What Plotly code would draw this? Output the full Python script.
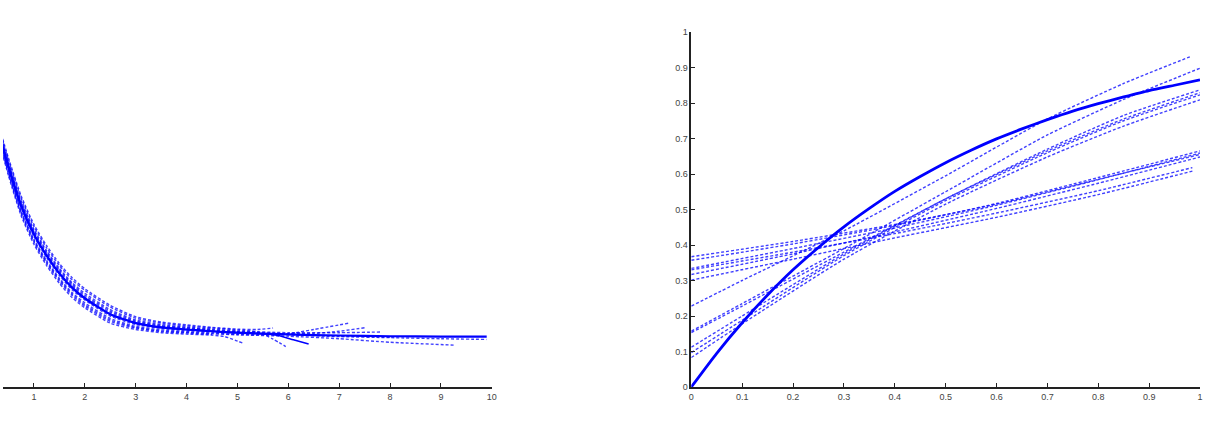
import plotly.graph_objects as go

# ---------------- Left panel data ----------------
grid_x = [0.3, 0.5, 0.75, 1.0, 1.25, 1.5, 1.75, 2.0, 2.5, 3.0, 3.5, 4.0, 4.5, 5.0]

left_main_x = grid_x + [6.0, 7.0, 8.0, 9.0, 9.9]
left_main_y = [0.72, 0.62, 0.51, 0.43, 0.37, 0.32, 0.28, 0.25, 0.205, 0.18, 0.168, 0.162, 0.157, 0.153,
               0.148, 0.145, 0.143, 0.142, 0.142]

left_dashed = [
    # (y on grid, tail x, tail y, solid?)
    ([0.716, 0.615, 0.504, 0.424, 0.364, 0.314, 0.274, 0.245, 0.20, 0.176, 0.165, 0.159, 0.155, 0.151],
     [6.0, 7.0, 8.0, 9.0, 9.9], [0.147, 0.142, 0.139, 0.136, 0.134], False),
    ([0.707, 0.604, 0.492, 0.412, 0.352, 0.302, 0.262, 0.232, 0.189, 0.168, 0.158, 0.154, 0.15, 0.147],
     [6.0, 7.0, 8.0, 9.25], [0.143, 0.136, 0.126, 0.118], False),
    ([0.73, 0.633, 0.524, 0.444, 0.384, 0.334, 0.294, 0.264, 0.218, 0.189, 0.176, 0.169, 0.163, 0.158],
     [6.0, 7.0, 7.84], [0.153, 0.153, 0.155], False),
    ([0.71, 0.608, 0.496, 0.416, 0.356, 0.306, 0.266, 0.237, 0.193, 0.171, 0.161, 0.156, 0.152, 0.148],
     [5.5, 6.0, 6.5, 7.2], [0.147, 0.15, 0.162, 0.18], False),
    ([0.724, 0.625, 0.516, 0.436, 0.376, 0.326, 0.286, 0.255, 0.21, 0.184, 0.171, 0.165, 0.159, 0.155],
     [6.0, 6.5, 7.0, 7.5], [0.15, 0.151, 0.157, 0.167], False),
    ([0.72, 0.62, 0.51, 0.43, 0.37, 0.32, 0.28, 0.25, 0.205, 0.18, 0.168, 0.162, 0.157, 0.153],
     [5.5, 5.8, 6.1, 6.4], [0.15, 0.145, 0.133, 0.121], True),
    ([0.736, 0.64, 0.532, 0.452, 0.392, 0.342, 0.302, 0.272, 0.225, 0.194, 0.18, 0.172, 0.166, 0.161],
     [5.4, 5.7, 5.95], [0.155, 0.135, 0.114], False),
    ([0.70, 0.595, 0.482, 0.402, 0.342, 0.292, 0.252, 0.223, 0.18, 0.162, 0.153, 0.149, 0.146],
     [4.75, 4.95, 5.1], [0.142, 0.132, 0.124], False),
    ([0.74, 0.645, 0.538, 0.458, 0.398, 0.348, 0.308, 0.277, 0.23, 0.198, 0.183, 0.175, 0.168, 0.163],
     [5.4, 5.7], [0.162, 0.166], False),
    ([0.727, 0.629, 0.52, 0.44, 0.38, 0.33, 0.29, 0.259, 0.214, 0.186, 0.173, 0.167, 0.161, 0.156],
     [6.0, 7.0, 8.0], [0.148, 0.144, 0.141], False),
    ([0.704, 0.60, 0.488, 0.408, 0.348, 0.298, 0.258, 0.228, 0.185, 0.166, 0.156, 0.152, 0.148],
     [], [], False),
]

# ---------------- Right panel data ----------------
right_main_x = [0, 0.05, 0.1, 0.15, 0.2, 0.25, 0.3, 0.35, 0.4, 0.45, 0.5,
                0.55, 0.6, 0.65, 0.7, 0.75, 0.8, 0.85, 0.9, 0.95, 1.0]
right_main_y = [0, 0.095, 0.181, 0.259, 0.330, 0.393, 0.451, 0.503, 0.551, 0.593, 0.632,
                0.667, 0.699, 0.727, 0.753, 0.777, 0.798, 0.817, 0.835, 0.850, 0.865]

upper_x = [0, 0.1, 0.3, 0.5, 0.7, 0.85, 1.0]
upper_x_top = [0, 0.1, 0.3, 0.5, 0.7, 0.85, 0.98]
upper_group = [
    (upper_x_top, [0.228, 0.30, 0.44, 0.595, 0.755, 0.855, 0.93]),
    (upper_x, [0.157, 0.235, 0.39, 0.55, 0.71, 0.81, 0.898]),
    (upper_x, [0.153, 0.228, 0.38, 0.53, 0.67, 0.765, 0.837]),
    (upper_x, [0.112, 0.20, 0.375, 0.53, 0.665, 0.755, 0.829]),
    (upper_x, [0.097, 0.188, 0.37, 0.525, 0.66, 0.75, 0.823]),
    (upper_x, [0.083, 0.178, 0.36, 0.515, 0.648, 0.735, 0.809]),
]

lower_x = [0, 0.2, 0.4, 0.6, 0.8, 1.0]
lower_x_short = [0, 0.2, 0.4, 0.6, 0.8, 0.985]
lower_group = [
    (lower_x, [0.367, 0.410, 0.458, 0.515, 0.585, 0.655]),
    (lower_x, [0.357, 0.403, 0.455, 0.517, 0.590, 0.665]),
    (lower_x, [0.334, 0.390, 0.448, 0.512, 0.584, 0.659]),
    (lower_x_short, [0.330, 0.380, 0.432, 0.490, 0.553, 0.618]),
    (lower_x, [0.317, 0.375, 0.437, 0.503, 0.574, 0.648]),
    (lower_x_short, [0.301, 0.360, 0.420, 0.478, 0.542, 0.608]),
]

x_ticks_left = [1, 2, 3, 4, 5, 6, 7, 8, 9, 10]
ticks_right = [0, 0.1, 0.2, 0.3, 0.4, 0.5, 0.6, 0.7, 0.8, 0.9, 1]
tick_text_right = ["0", "0.1", "0.2", "0.3", "0.4", "0.5", "0.6", "0.7", "0.8", "0.9", "1"]

BLUE = "#0000ff"
DASH_COLOR = "rgba(0,0,255,0.75)"
DASH = "3px,2px"

fig = go.Figure()

# left dashed band
for gy, tx, ty, solid in left_dashed:
    xs = grid_x[:len(gy)] + tx
    ys = gy + ty
    if solid:
        line = dict(color=BLUE, width=1.6, shape="spline", smoothing=0.6)
    else:
        line = dict(color=DASH_COLOR, width=1.4, dash=DASH, shape="spline", smoothing=0.6)
    fig.add_trace(go.Scatter(x=xs, y=ys, mode="lines", line=line,
                             xaxis="x", yaxis="y", showlegend=False, hoverinfo="skip"))
fig.add_trace(go.Scatter(x=left_main_x, y=left_main_y, mode="lines",
                         line=dict(color=BLUE, width=2.2, shape="spline", smoothing=0.6),
                         xaxis="x", yaxis="y", showlegend=False))

# right dashed
for gx, gy in upper_group + lower_group:
    fig.add_trace(go.Scatter(x=gx, y=gy, mode="lines",
                             line=dict(color=DASH_COLOR, width=1.4, dash=DASH, shape="spline", smoothing=0.6),
                             xaxis="x2", yaxis="y2", showlegend=False, hoverinfo="skip"))
fig.add_trace(go.Scatter(x=right_main_x, y=right_main_y, mode="lines",
                         line=dict(color=BLUE, width=2.8, shape="spline", smoothing=0.6),
                         xaxis="x2", yaxis="y2", showlegend=False))

tick_font = dict(family="Liberation Sans, Arial, sans-serif", size=9, color="#444")
axis_common = dict(showgrid=False, zeroline=False, showline=True, linecolor="#222",
                   linewidth=1.5, ticks="inside", ticklen=4, tickwidth=1.2,
                   tickcolor="#222", tickfont=tick_font)

fig.update_layout(
    width=1216, height=432,
    margin=dict(l=0, r=16, t=32, b=45),
    paper_bgcolor="white", plot_bgcolor="white",
    showlegend=False,
    xaxis=dict(domain=[0, 490 / 1200], range=[0.392, 10], tickvals=x_ticks_left,
               ticktext=[str(v) for v in x_ticks_left], anchor="y", **axis_common),
    yaxis=dict(domain=[0, 1], range=[0, 1], visible=False, anchor="x"),
    xaxis2=dict(domain=[690 / 1200, 1], range=[0, 1], tickvals=ticks_right,
                ticktext=tick_text_right, anchor="y2", **axis_common),
    yaxis2=dict(domain=[0, 1], range=[0, 1], tickvals=ticks_right,
                ticktext=tick_text_right, anchor="x2", **axis_common),
)

fig.write_html("out.html")
